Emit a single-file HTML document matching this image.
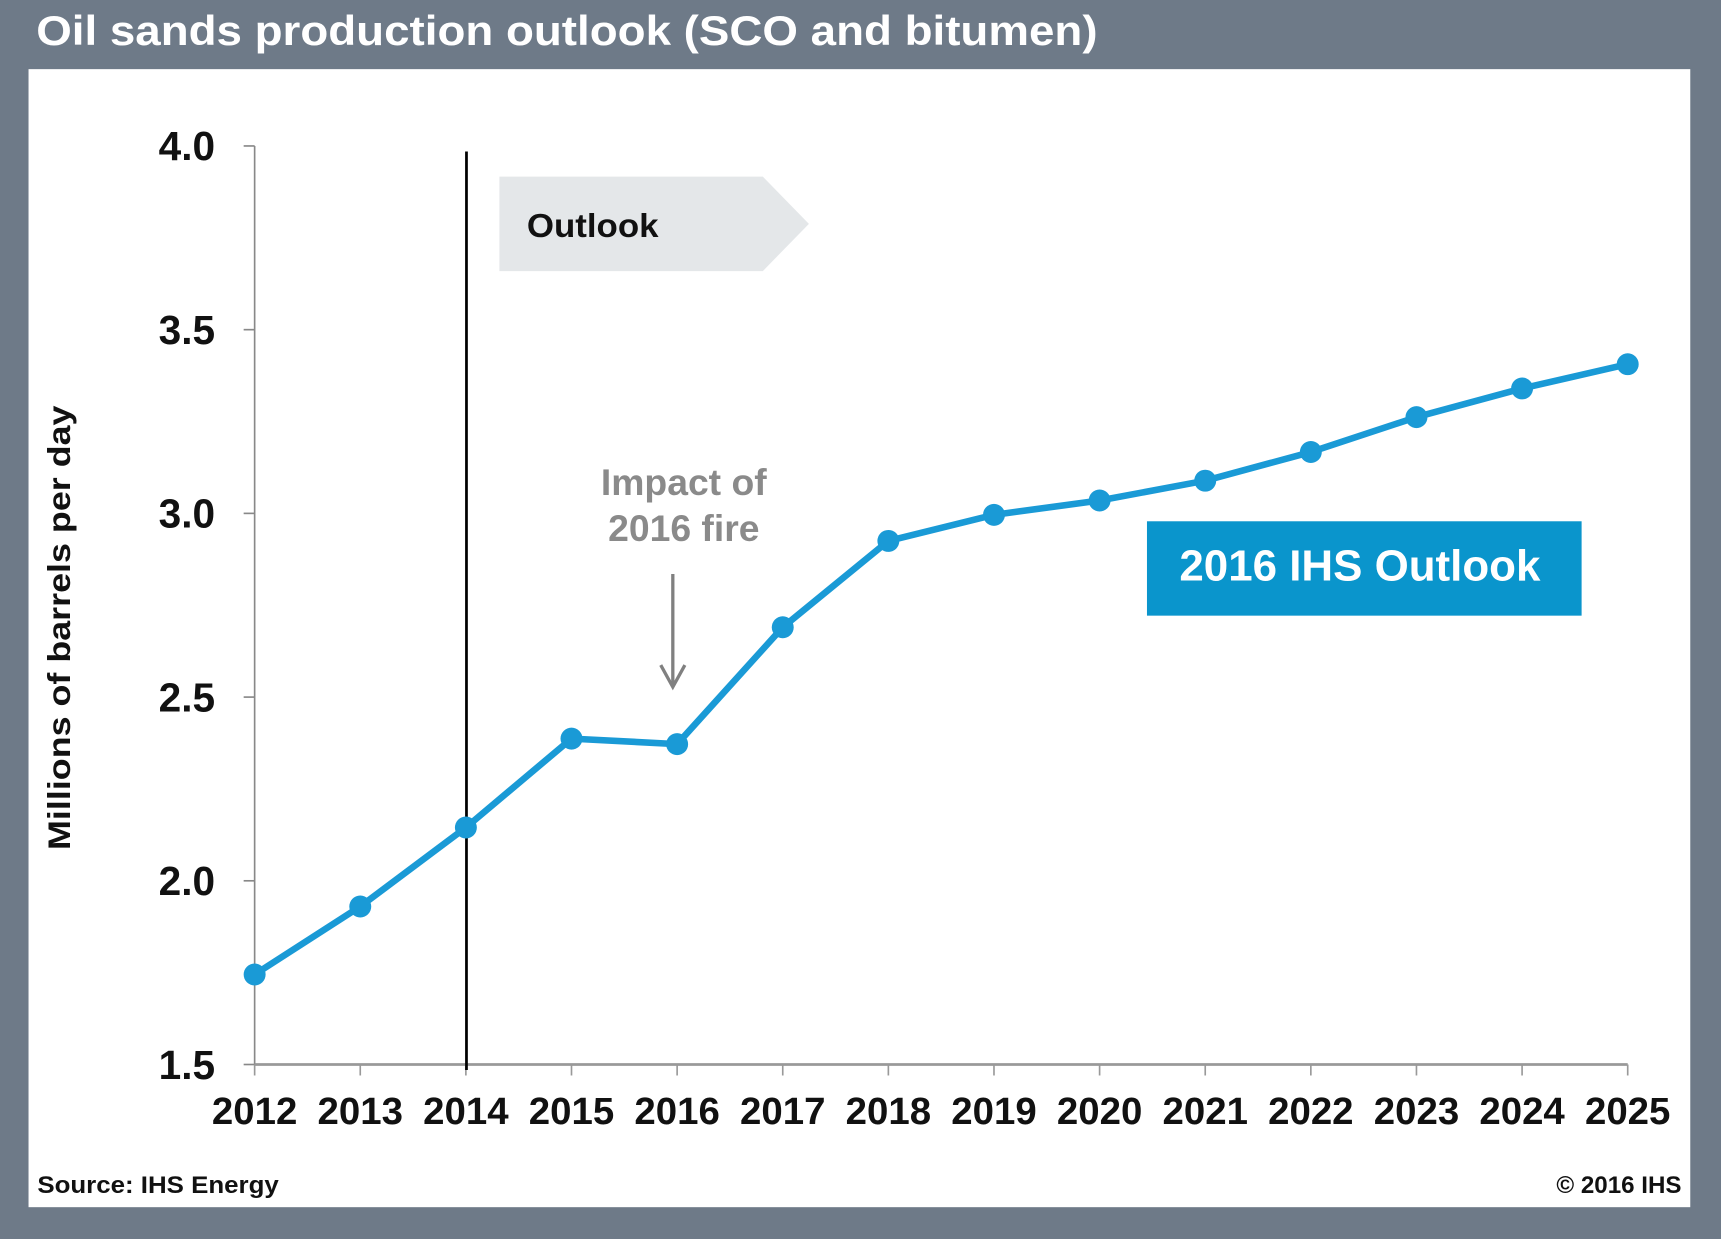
<!DOCTYPE html>
<html><head><meta charset="utf-8"><style>
html,body{margin:0;padding:0;background:#6e7a88;}
svg{display:block;font-family:"Liberation Sans",Arial,sans-serif;}
</style></head><body>
<svg id="chart" width="1721" height="1239" viewBox="0 0 1568 1129" preserveAspectRatio="none">
<rect x="0" y="0" width="1568" height="1129" fill="#6e7a88"/>
<text x="33" y="41" fill="#ffffff" font-size="38" font-weight="bold" textLength="967" lengthAdjust="spacingAndGlyphs">Oil sands production outlook (SCO and bitumen)</text>
<rect x="26" y="63" width="1514" height="1037" fill="#ffffff"/>
<g id="axes"></g>
<line x1="425" y1="138" x2="425" y2="975" stroke="#000" stroke-width="2.5"/>
<polygon points="455,161 695,161 737,204 695,247 455,247" fill="#e4e7e9"/>
<text x="480" y="216" font-size="30" font-weight="bold" fill="#111" textLength="120" lengthAdjust="spacingAndGlyphs">Outlook</text>
<text x="623" y="451" text-anchor="middle" font-size="34" font-weight="bold" fill="#8a8a8a">Impact of</text>
<text x="623" y="493" text-anchor="middle" font-size="34" font-weight="bold" fill="#8a8a8a">2016 fire</text>
<g>
<line x1="613" y1="523" x2="613" y2="624" stroke="#808080" stroke-width="3"/>
<polyline points="602,606 613,626 624,606" fill="none" stroke="#808080" stroke-width="3"/>
</g>
<g id="series"></g>
<rect x="1045" y="475" width="396" height="86" fill="#0a95cc"/>
<text x="1239" y="529" text-anchor="middle" font-size="40" font-weight="bold" fill="#fff">2016 IHS Outlook</text>
<text transform="translate(64,572) rotate(-90)" text-anchor="middle" font-size="29" font-weight="bold" fill="#111" textLength="405" lengthAdjust="spacingAndGlyphs">Millions of barrels per day</text>
<text x="34" y="1087" font-size="22" font-weight="bold" fill="#111" textLength="220" lengthAdjust="spacingAndGlyphs">Source: IHS Energy</text>
<text x="1532" y="1087" text-anchor="end" font-size="22" font-weight="bold" fill="#111">© 2016 IHS</text>
</svg>
<script>
const years = ["2012","2013","2014","2015","2016","2017","2018","2019","2020","2021","2022","2023","2024","2025"];
const production = [1.745,1.93,2.145,2.387,2.372,2.69,2.925,2.996,3.035,3.089,3.167,3.262,3.34,3.406];
const yTicks = [1.5,2.0,2.5,3.0,3.5,4.0];
const yTickLabels = ["1.5","2.0","2.5","3.0","3.5","4.0"];

const NS="http://www.w3.org/2000/svg";
const X0=232,X1=1483,Y0=970,Y1=133,VMIN=1.5,VMAX=4.0;
function xScale(i){return X0+(X1-X0)*i/(years.length-1);}
function yScale(v){return Y0-(v-VMIN)/(VMAX-VMIN)*(Y0-Y1);}
function mk(tag,attrs){const e=document.createElementNS(NS,tag);for(const k in attrs)e.setAttribute(k,attrs[k]);return e;}
const axes=document.getElementById('axes');
const yAxis=mk('line',{x1:X0,y1:Y1,x2:X0,y2:Y0,stroke:'#888','stroke-width':1.5});


axes.appendChild(yAxis);
const xAxis=mk('line',{x1:X0,y1:Y0,x2:X1,y2:Y0,stroke:'#999','stroke-width':2.5});


axes.appendChild(xAxis);
yTicks.forEach((v,i)=>{
  const y=yScale(v);
  const t=mk('line',{x1:X0-10,y1:y,x2:X0,y2:y,stroke:'#888','stroke-width':1.5});
  
  
  axes.appendChild(t);
  const l=mk('text',{x:196,y:y+13,'text-anchor':'end','font-size':37,'font-weight':'bold',fill:'#111'});
  l.textContent=yTickLabels[i];
  
  
  axes.appendChild(l);
});
years.forEach((yr,i)=>{
  const x=xScale(i);
  const t=mk('line',{x1:x,y1:Y0,x2:x,y2:Y0+10,stroke:'#999','stroke-width':1.5});
  
  
  axes.appendChild(t);
  const l=mk('text',{x:x,y:1024,'text-anchor':'middle','font-size':35,'font-weight':'bold',fill:'#111'});
  l.textContent=yr;
  
  
  axes.appendChild(l);
});
const series=document.getElementById('series');
const pts=production.map((v,i)=>xScale(i)+','+yScale(v)).join(' ');
const line=mk('polyline',{points:pts,fill:'none',stroke:'#1a9ad6','stroke-width':6,'stroke-linejoin':'round'});


series.appendChild(line);
production.forEach((v,i)=>{
  const c=mk('circle',{cx:xScale(i),cy:yScale(v),r:10,fill:'#1a9ad6'});
  
  
  series.appendChild(c);
});
</script>
</body></html>
